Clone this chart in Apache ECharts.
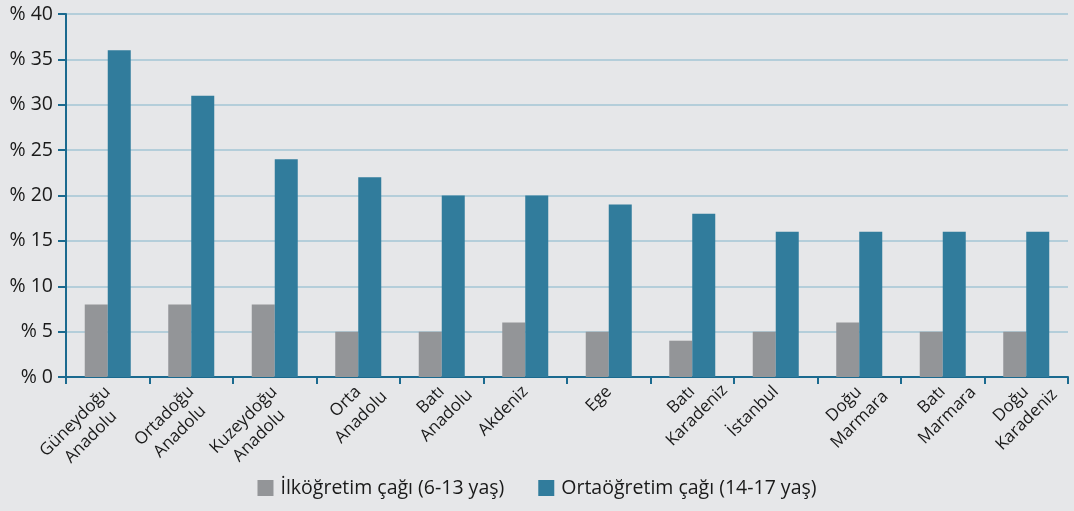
<!DOCTYPE html>
<html><head><meta charset="utf-8">
<script src="https://cdn.jsdelivr.net/npm/echarts@6/dist/echarts.min.js"></script>
<style>html,body{margin:0;padding:0;background:#e6e7e9;}#c{width:1074px;height:511px;}</style>
</head><body><div id="c"></div>
<script>
const categories = ['Güneydoğu\nAnadolu','Ortadoğu\nAnadolu','Kuzeydoğu\nAnadolu','Orta\nAnadolu','Batı\nAnadolu','Akdeniz','Ege','Batı\nKaradeniz','İstanbul','Doğu\nMarmara','Batı\nMarmara','Doğu\nKaradeniz'];
const seriesNames = ['İlköğretim çağı (6-13 yaş)','Ortaöğretim çağı (14-17 yaş)'];
const primaryValues = [8,8,8,5,5,6,5,4,5,6,5,5];
const secondaryValues = [36,31,24,22,20,20,19,18,16,16,16,16];
const yTicks = [0,5,10,15,20,25,30,35,40];

const FONT = 'Open Sans';
const XFS = 17, XLH = 22;

// measure first-line widths so the second line is centred on the first line
const cv = document.createElement('canvas').getContext('2d');
cv.font = XFS + 'px "' + FONT + '"';
const rich = {s: {fontFamily: FONT, fontSize: XFS, lineHeight: XLH, align: 'center', color: '#1a1a1a'}};
const labelMap = {};
categories.forEach((c, i) => {
  const lines = c.split('\n');
  const base = {fontFamily: FONT, fontSize: XFS, lineHeight: XLH, align: 'center', color: '#1a1a1a'};
  if (lines.length === 1) {
    rich['a' + i] = base;
    labelMap[c] = '{a' + i + '|' + lines[0] + '}';
  } else {
    const w1 = Math.ceil(cv.measureText(lines[0]).width);
    rich['a' + i] = Object.assign({}, base);
    rich['b' + i] = Object.assign({}, base, {width: w1});
    labelMap[c] = '{s| }\n{a' + i + '|' + lines[0] + '}\n{b' + i + '|' + lines[1] + '}';
  }
});

const chart = echarts.init(document.getElementById('c'));
chart.setOption({
  backgroundColor: '#e6e7e9',
  animation: false,
  grid: {left: 66, right: 6, top: 14, bottom: 134, containLabel: false},
  legend: {
    bottom: 8, left: 'center',
    itemWidth: 16, itemHeight: 16, itemGap: 34,
    icon: 'rect',
    textStyle: {fontFamily: FONT, fontSize: 19.5, color: '#1a1a1a', padding: [0, 0, 0, 2]},
    data: seriesNames
  },
  xAxis: {
    type: 'category',
    data: categories,
    axisLine: {lineStyle: {color: '#1b6a8f', width: 2}},
    axisTick: {show: true, length: 7, lineStyle: {color: '#1b6a8f', width: 2}},
    axisLabel: {
      rotate: 45, interval: 0, margin: 12,
      fontFamily: FONT, fontSize: XFS, color: '#1a1a1a',
      formatter: v => labelMap[v],
      rich: rich
    }
  },
  yAxis: {
    type: 'value', min: 0, max: 40, interval: 5,
    axisLine: {show: true, lineStyle: {color: '#1b6a8f', width: 2}},
    axisTick: {show: true, length: 8, lineStyle: {color: '#1b6a8f', width: 2}},
    splitLine: {lineStyle: {color: '#a3c6d5', width: 1.5}},
    axisLabel: {
      margin: 13, fontFamily: FONT, fontSize: 19.5, color: '#1a1a1a',
      formatter: v => yTicks.includes(v) ? '% ' + v : ''
    }
  },
  series: [
    {name: seriesNames[0], type: 'bar', data: primaryValues, barWidth: 23, barGap: '0%', itemStyle: {color: '#939598'}},
    {name: seriesNames[1], type: 'bar', data: secondaryValues, barWidth: 23, barGap: '0%', itemStyle: {color: '#317c9c'}}
  ]
});
</script></body></html>
